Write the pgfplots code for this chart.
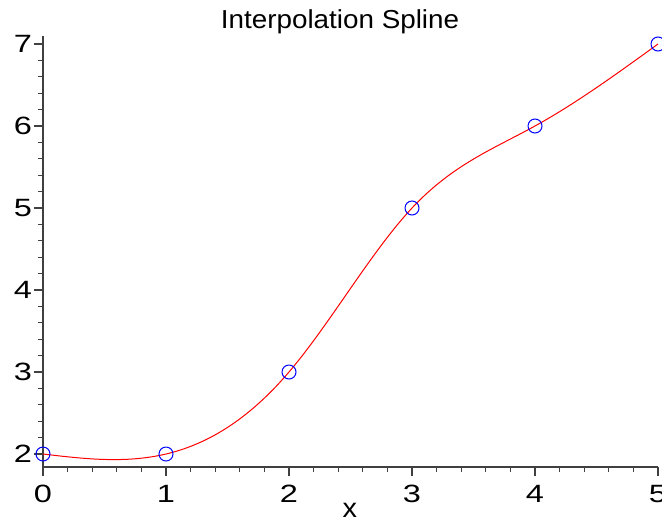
\documentclass[border=0pt]{standalone}
\usepackage{fontspec}
\setmainfont{Liberation Sans}
\newfontfamily\tickfont[FakeStretch=1.3]{Liberation Sans}
\newfontfamily\titlefont[FakeStretch=1.07]{Liberation Sans}
\usepackage{pgfplots}
\pgfplotsset{compat=1.18}

\begin{document}
\begin{tikzpicture}
\begin{axis}[
  x=61.5pt, y=41pt,
  xmin=0, xmax=5, ymin=1.8415, ymax=7.098,
  axis lines*=left,
  axis line style={black!75, line width=0.6pt},
  tick align=outside,
  xtick={0,1,2,3,4,5},
  ytick={2,3,4,5,6,7},
  minor tick num=4,
  major tick length=4.5pt,
  minor tick length=2.3pt,
  tick style={black!75, line width=0.6pt},
  /pgf/number format/assume math mode=true,
  ticklabel style={font=\tickfont\fontsize{12.5}{15}\selectfont, text=black},
  xticklabel style={yshift=-1pt},
  yticklabel style={xshift=2.5pt},
  xlabel={x},
  xlabel style={at={(axis description cs:0.499,0)}, anchor=center, yshift=-21.5pt,
    font=\titlefont\fontsize{13.5}{16}\selectfont},
  clip=false,
]
% spline curve
\addplot[red, line width=0.5pt, smooth] coordinates {
  (0,2) (0.1,1.9825) (0.2,1.9660) (0.3,1.9517) (0.4,1.9405) (0.5,1.9336)
  (0.6,1.9320) (0.7,1.9368) (0.8,1.9490) (0.9,1.9697) (1,2)
  (1.1,2.0408) (1.2,2.0930) (1.3,2.1571) (1.4,2.2340) (1.5,2.3242)
  (1.6,2.4284) (1.7,2.5475) (1.8,2.6820) (1.9,2.8326) (2,3)
  (2.1,3.1842) (2.2,3.3821) (2.3,3.5899) (2.4,3.8037) (2.5,4.0197)
  (2.6,4.2342) (2.7,4.4433) (2.8,4.6432) (2.9,4.8300) (3,5)
  (3.1,5.1504) (3.2,5.2827) (3.3,5.3995) (3.4,5.5034) (3.5,5.5969)
  (3.6,5.6827) (3.7,5.7633) (3.8,5.8413) (3.9,5.9194) (4,6)
  (4.1,6.0853) (4.2,6.1752) (4.3,6.2693) (4.4,6.3669) (4.5,6.4677)
  (4.6,6.5711) (4.7,6.6765) (4.8,6.7835) (4.9,6.8915) (5,7)
};
% data points
\addplot[only marks, mark=o, mark size=3.5pt, mark options={blue, line width=0.5pt}] coordinates {
  (0,2) (1,2) (2,3) (3,5) (4,6) (5,7)
};
\node[font=\titlefont\fontsize{13}{16}\selectfont, anchor=center]
  at (axis cs:2.415,7.27) {Interpolation Spline};
\end{axis}
\pgfresetboundingbox
\path[use as bounding box] (-21.5pt,-27pt) rectangle (309.5pt,233.5pt);
\end{tikzpicture}
\end{document}
